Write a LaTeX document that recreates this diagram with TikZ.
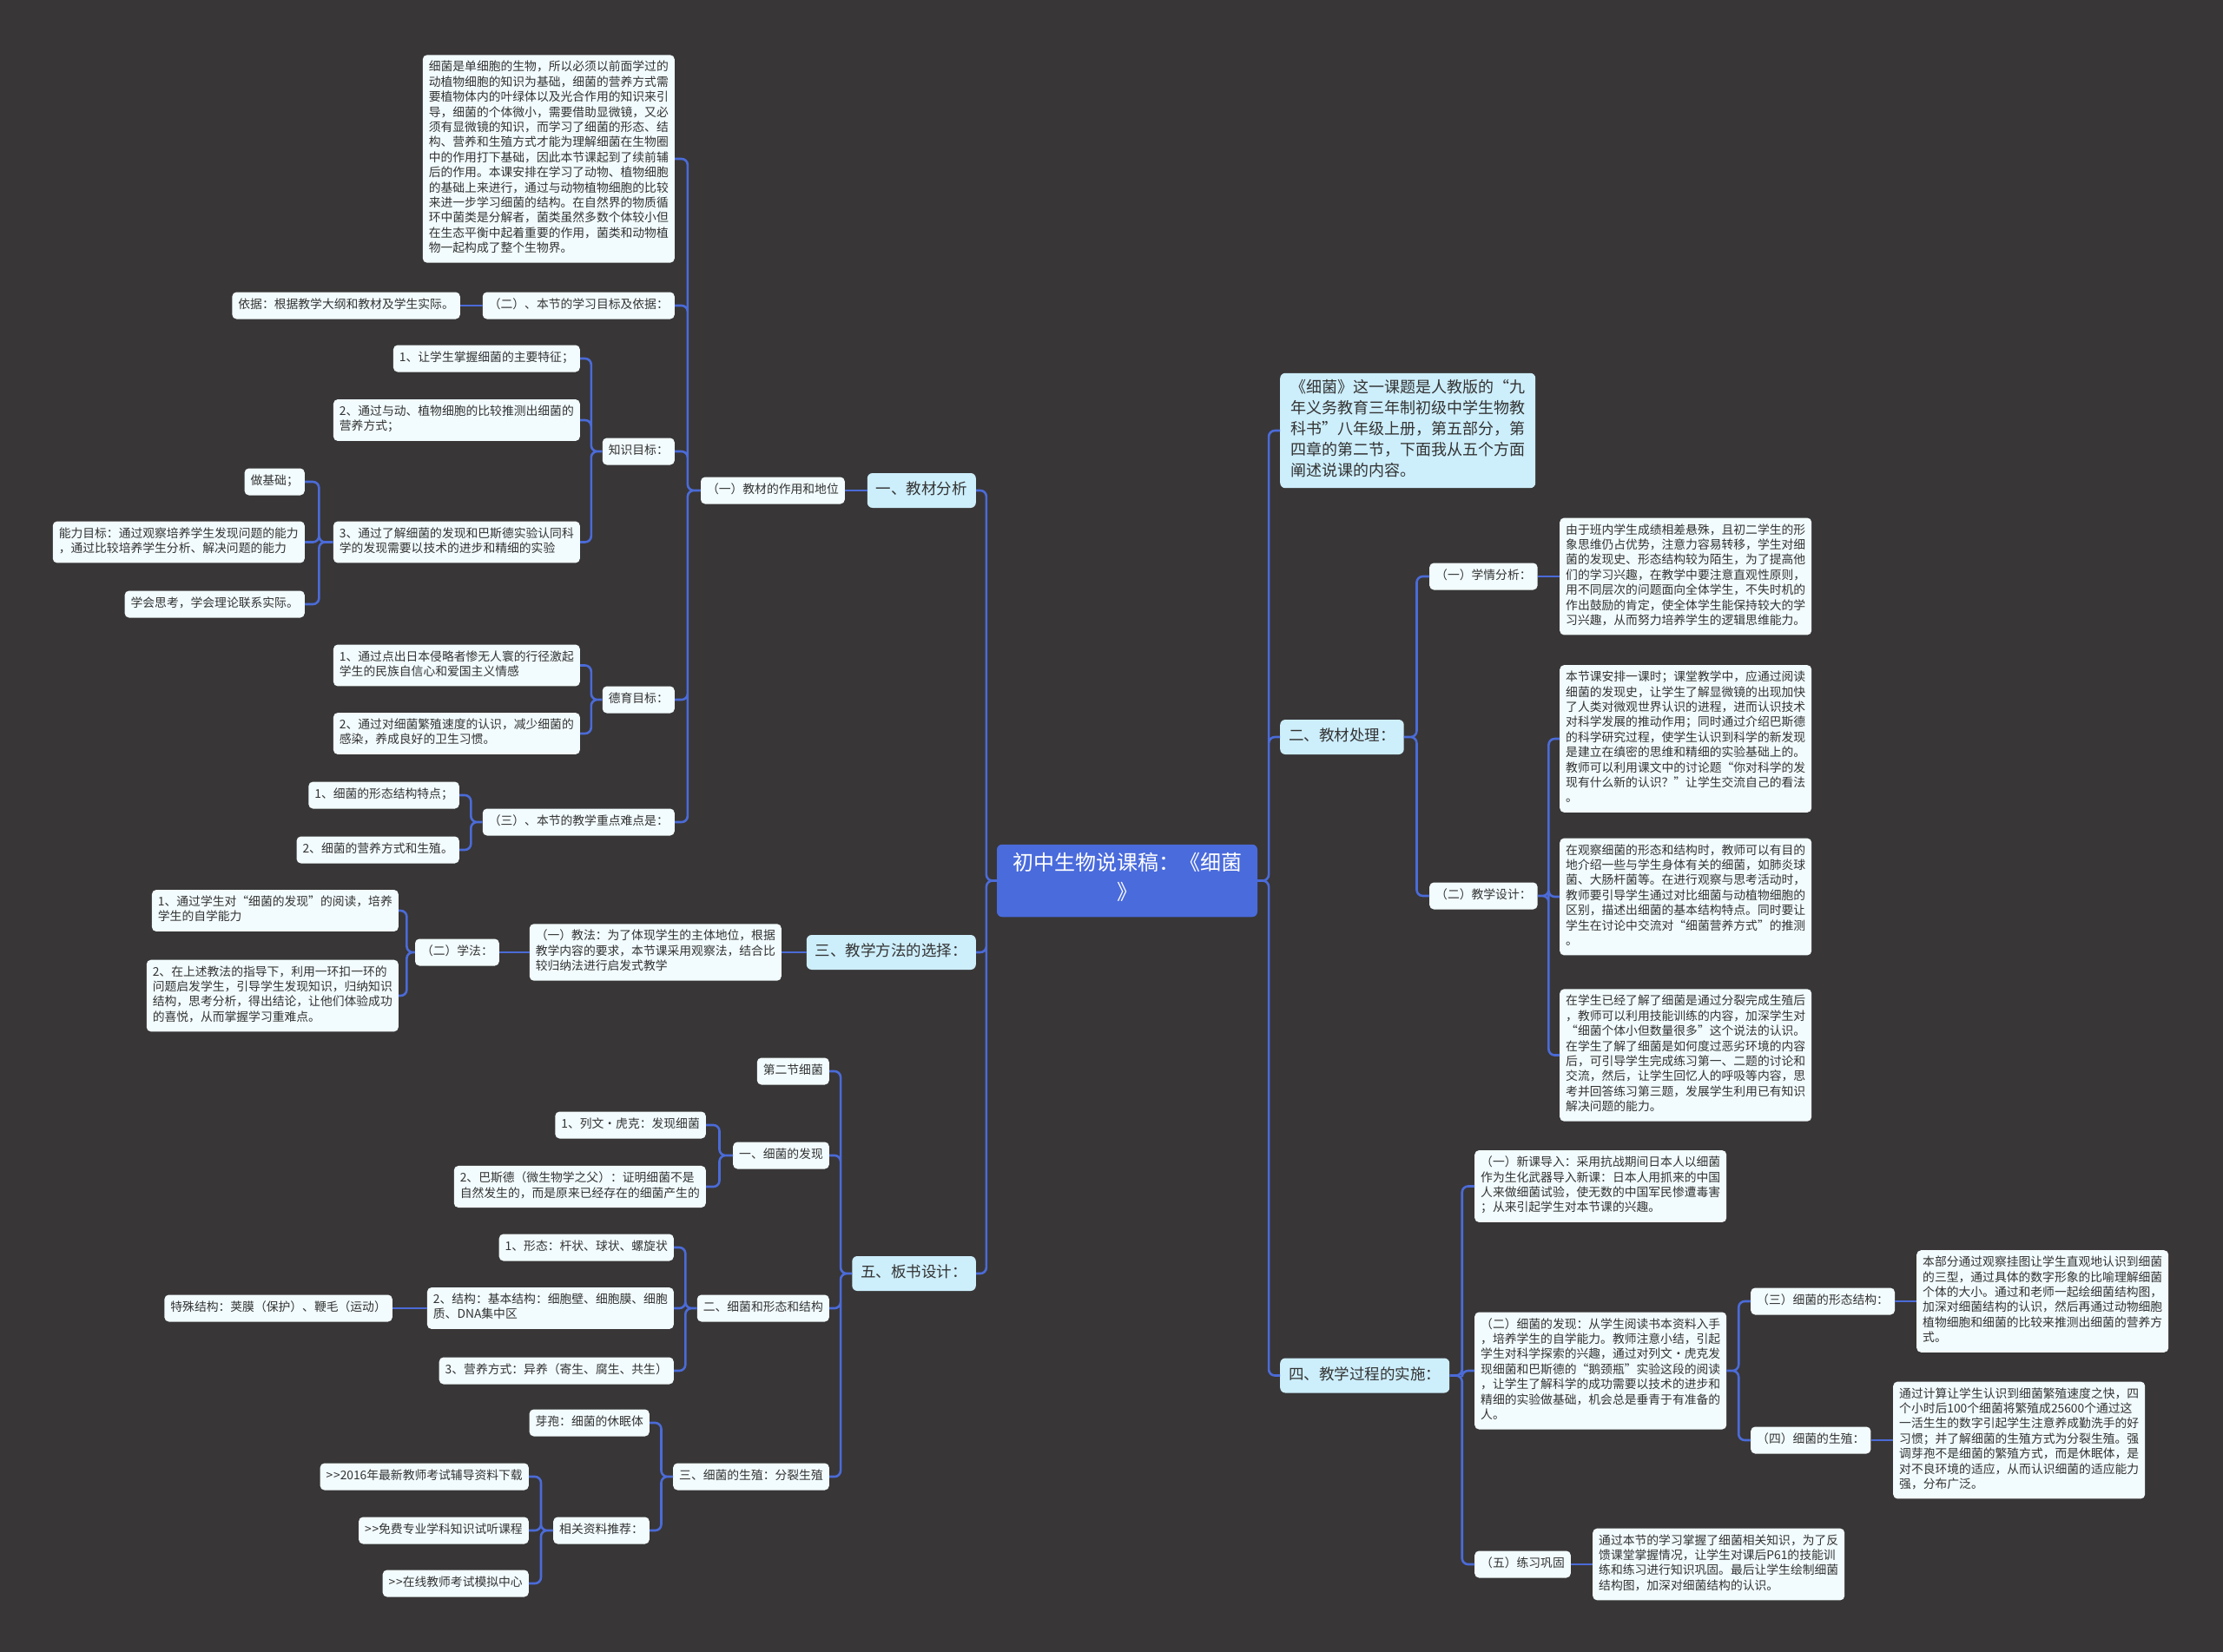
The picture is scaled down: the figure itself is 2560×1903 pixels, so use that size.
\documentclass[tikz,border=0pt]{standalone}
\usepackage{fontspec}
\setmainfont{Noto Sans CJK SC}
\usetikzlibrary{calc}
\definecolor{bg}{HTML}{383637}
\definecolor{linec}{HTML}{4B6BD8}
\definecolor{leaffill}{HTML}{F2FBFD}
\definecolor{lvlfill}{HTML}{CDEEFB}
\definecolor{rootfill}{HTML}{4A6BDC}
\definecolor{txt}{HTML}{333333}
\newcommand{\gtgt}{>\kern0.8pt>}
\tikzset{
  leaf/.style={fill=leaffill, rounded corners=5pt, inner xsep=7pt, inner ysep=6.8pt, align=left, text=txt,
    font=\fontsize{13.8}{17.4}\selectfont, execute at begin node=\strut, execute at end node=\strut},
  lvl/.style={fill=lvlfill, rounded corners=6pt, inner xsep=10pt, inner ysep=8pt, align=left, text=txt,
    font=\fontsize{17.5}{24}\selectfont, execute at begin node=\strut, execute at end node=\strut},
  introbox/.style={fill=lvlfill, rounded corners=6pt, inner xsep=12pt, inner ysep=7pt, align=left, text=txt,
    font=\fontsize{18}{24}\selectfont, execute at begin node=\strut, execute at end node=\strut},
  rootn/.style={fill=rootfill, rounded corners=6pt, inner xsep=18pt, inner ysep=9.5pt, align=center, text=white,
    minimum width=300pt, font=\fontsize{24}{34}\selectfont, execute at begin node=\strut, execute at end node=\strut},
  conn/.style={draw=linec, line width=2.6pt, rounded corners=7pt},
  lc/.style={to path={(\tikztostart.west) -- ($(\tikztostart.west)!0.5!(\tikztostart.west -| \tikztotarget.east)$) |- (\tikztotarget.east)}},
  rc/.style={to path={(\tikztostart.east) -- ($(\tikztostart.east)!0.5!(\tikztostart.east -| \tikztotarget.west)$) |- (\tikztotarget.west)}},
  hl/.style={to path={(\tikztostart.west) -- (\tikztotarget.east)}},
  hr/.style={to path={(\tikztostart.east) -- (\tikztotarget.west)}},
}
\begin{document}
\begin{tikzpicture}[x=1pt,y=-1pt]
\useasboundingbox (0,0) rectangle (2560,1903);
\fill[bg] (0,0) rectangle (2560,1903);

% root
\node[rootn] (root) at (1298,1014.5) {初中生物说课稿：《细菌\\》};

% ===== left: 一
\node[lvl,anchor=east] (jcfx) at (1124,565) {一、教材分析};
\node[leaf,anchor=east] (zy) at (973,565) {（一）教材的作用和地位};
\node[leaf,anchor=east] (topblock) at (777,183) {细菌是单细胞的生物，所以必须以前面学过的\\动植物细胞的知识为基础，细菌的营养方式需\\要植物体内的叶绿体以及光合作用的知识来引\\导，细菌的个体微小，需要借助显微镜，又必\\须有显微镜的知识，而学习了细菌的形态、结\\构、营养和生殖方式才能为理解细菌在生物圈\\中的作用打下基础，因此本节课起到了续前辅\\后的作用。本课安排在学习了动物、植物细胞\\的基础上来进行，通过与动物植物细胞的比较\\来进一步学习细菌的结构。在自然界的物质循\\环中菌类是分解者，菌类虽然多数个体较小但\\在生态平衡中起着重要的作用，菌类和动物植\\物一起构成了整个生物界。};
\node[leaf,anchor=east] (mb) at (777,352) {（二）、本节的学习目标及依据：};
\node[leaf,anchor=east] (yj) at (530,352) {依据：根据教学大纲和教材及学生实际。};
\node[leaf,anchor=east] (zsmb) at (777,520) {知识目标：};
\node[leaf,anchor=east] (zs1) at (668,413) {1、让学生掌握细菌的主要特征；};
\node[leaf,anchor=east] (zs2) at (668,484) {2、通过与动、植物细胞的比较推测出细菌的\\营养方式；};
\node[leaf,anchor=east] (zs3) at (668,624.5) {3、通过了解细菌的发现和巴斯德实验认同科\\学的发现需要以技术的进步和精细的实验};
\node[leaf,anchor=east] (zjc) at (351,555) {做基础；};
\node[leaf,anchor=east] (nlmb) at (351,624.5) {能力目标：通过观察培养学生发现问题的能力\\，通过比较培养学生分析、解决问题的能力};
\node[leaf,anchor=east] (xhsk) at (351,696) {学会思考，学会理论联系实际。};
\node[leaf,anchor=east] (dymb) at (777,806) {德育目标：};
\node[leaf,anchor=east] (dy1) at (668,766.5) {1、通过点出日本侵略者惨无人寰的行径激起\\学生的民族自信心和爱国主义情感};
\node[leaf,anchor=east] (dy2) at (668,845) {2、通过对细菌繁殖速度的认识，减少细菌的\\感染，养成良好的卫生习惯。};
\node[leaf,anchor=east] (zd) at (777,947) {（三）、本节的教学重点难点是：};
\node[leaf,anchor=east] (zd1) at (529,916) {1、细菌的形态结构特点；};
\node[leaf,anchor=east] (zd2) at (529,979) {2、细菌的营养方式和生殖。};

% ===== left: 三
\node[lvl,anchor=east] (ff) at (1124,1097) {三、教学方法的选择：};
\node[leaf,anchor=east] (jf) at (900,1097) {（一）教法：为了体现学生的主体地位，根据\\教学内容的要求，本节课采用观察法，结合比\\较归纳法进行启发式教学};
\node[leaf,anchor=east] (xf) at (575,1097) {（二）学法：};
\node[leaf,anchor=east] (xf1) at (459,1049) {1、通过学生对“细菌的发现”的阅读，培养\\学生的自学能力};
\node[leaf,anchor=east] (xf2) at (459,1147) {2、在上述教法的指导下，利用一环扣一环的\\问题启发学生，引导学生发现知识，归纳知识\\结构，思考分析，得出结论，让他们体验成功\\的喜悦，从而掌握学习重难点。};

% ===== left: 五
\node[lvl,anchor=east] (bs) at (1124,1467) {五、板书设计：};
\node[leaf,anchor=east] (d2j) at (955,1234) {第二节细菌};
\node[leaf,anchor=east] (fx1) at (955,1331) {一、细菌的发现};
\node[leaf,anchor=east] (lw) at (813,1296) {1、列文•虎克：发现细菌};
\node[leaf,anchor=east] (bsd) at (813,1367) {2、巴斯德（微生物学之父）：证明细菌不是\\自然发生的，而是原来已经存在的细菌产生的};
\node[leaf,anchor=east] (xtjg) at (955,1507) {二、细菌和形态和结构};
\node[leaf,anchor=east] (xt1) at (776,1437) {1、形态：杆状、球状、螺旋状};
\node[leaf,anchor=east] (jg2) at (776,1507) {2、结构：基本结构：细胞壁、细胞膜、细胞\\质、DNA集中区};
\node[leaf,anchor=east] (tszj) at (452,1507) {特殊结构：荚膜（保护）、鞭毛（运动）};
\node[leaf,anchor=east] (yy3) at (776,1579) {3、营养方式：异养（寄生、腐生、共生）};
\node[leaf,anchor=east] (szfl) at (955,1701) {三、细菌的生殖：分裂生殖};
\node[leaf,anchor=east] (yb) at (748,1639) {芽孢：细菌的休眠体};
\node[leaf,anchor=east] (xgzl) at (748,1763) {相关资料推荐：};
\node[leaf,anchor=east] (r1) at (609,1701) {\gtgt 2016年最新教师考试辅导资料下载};
\node[leaf,anchor=east] (r2) at (609,1763) {\gtgt 免费专业学科知识试听课程};
\node[leaf,anchor=east] (r3) at (609,1824) {\gtgt 在线教师考试模拟中心};

% ===== right
\node[introbox,anchor=west] (intro) at (1474,496) {《细菌》这一课题是人教版的“九\\年义务教育三年制初级中学生物教\\科书”八年级上册，第五部分，第\\四章的第二节，下面我从五个方面\\阐述说课的内容。};
\node[lvl,anchor=west] (cl) at (1474,849) {二、教材处理：};
\node[leaf,anchor=west] (xq) at (1646,664) {（一）学情分析：};
\node[leaf,anchor=west] (xqt) at (1796,664) {由于班内学生成绩相差悬殊，且初二学生的形\\象思维仍占优势，注意力容易转移，学生对细\\菌的发现史、形态结构较为陌生，为了提高他\\们的学习兴趣，在教学中要注意直观性原则，\\用不同层次的问题面向全体学生，不失时机的\\作出鼓励的肯定，使全体学生能保持较大的学\\习兴趣，从而努力培养学生的逻辑思维能力。};
\node[leaf,anchor=west] (sj) at (1646,1032) {（二）教学设计：};
\node[leaf,anchor=west] (sj1) at (1796,851) {本节课安排一课时；课堂教学中，应通过阅读\\细菌的发现史，让学生了解显微镜的出现加快\\了人类对微观世界认识的进程，进而认识技术\\对科学发展的推动作用；同时通过介绍巴斯德\\的科学研究过程，使学生认识到科学的新发现\\是建立在缜密的思维和精细的实验基础上的。\\教师可以利用课文中的讨论题“你对科学的发\\现有什么新的认识？”让学生交流自己的看法\\。};
\node[leaf,anchor=west] (sj2) at (1796,1033) {在观察细菌的形态和结构时，教师可以有目的\\地介绍一些与学生身体有关的细菌，如肺炎球\\菌、大肠杆菌等。在进行观察与思考活动时，\\教师要引导学生通过对比细菌与动植物细胞的\\区别，描述出细菌的基本结构特点。同时要让\\学生在讨论中交流对“细菌营养方式”的推测\\。};
\node[leaf,anchor=west] (sj3) at (1796,1215.5) {在学生已经了解了细菌是通过分裂完成生殖后\\，教师可以利用技能训练的内容，加深学生对\\“细菌个体小但数量很多”这个说法的认识。\\在学生了解了细菌是如何度过恶劣环境的内容\\后，可引导学生完成练习第一、二题的讨论和\\交流，然后，让学生回忆人的呼吸等内容，思\\考并回答练习第三题，发展学生利用已有知识\\解决问题的能力。};
\node[lvl,anchor=west] (gc) at (1474,1584.5) {四、教学过程的实施：};
\node[leaf,anchor=west] (xk) at (1698,1366.5) {（一）新课导入：采用抗战期间日本人以细菌\\作为生化武器导入新课：日本人用抓来的中国\\人来做细菌试验，使无数的中国军民惨遭毒害\\；从来引起学生对本节课的兴趣。};
\node[leaf,anchor=west] (fx) at (1698,1579) {（二）细菌的发现：从学生阅读书本资料入手\\，培养学生的自学能力。教师注意小结，引起\\学生对科学探索的兴趣，通过对列文•虎克发\\现细菌和巴斯德的“鹅颈瓶”实验这段的阅读\\，让学生了解科学的成功需要以技术的进步和\\精细的实验做基础，机会总是垂青于有准备的\\人。};
\node[leaf,anchor=west] (xt3) at (2016,1499) {（三）细菌的形态结构：};
\node[leaf,anchor=west] (xt3t) at (2207,1499) {本部分通过观察挂图让学生直观地认识到细菌\\的三型，通过具体的数字形象的比喻理解细菌\\个体的大小。通过和老师一起绘细菌结构图，\\加深对细菌结构的认识，然后再通过动物细胞\\植物细胞和细菌的比较来推测出细菌的营养方\\式。};
\node[leaf,anchor=west] (sz4) at (2016,1659) {（四）细菌的生殖：};
\node[leaf,anchor=west] (sz4t) at (2180,1659) {通过计算让学生认识到细菌繁殖速度之快，四\\个小时后100个细菌将繁殖成25600个通过这\\一活生生的数字引起学生注意养成勤洗手的好\\习惯；并了解细菌的生殖方式为分裂生殖。强\\调芽孢不是细菌的繁殖方式，而是休眠体，是\\对不良环境的适应，从而认识细菌的适应能力\\强，分布广泛。};
\node[leaf,anchor=west] (lx5) at (1698,1802) {（五）练习巩固};
\node[leaf,anchor=west] (lx5t) at (1834,1802) {通过本节的学习掌握了细菌相关知识，为了反\\馈课堂掌握情况，让学生对课后P61的技能训\\练和练习进行知识巩固。最后让学生绘制细菌\\结构图，加深对细菌结构的认识。};

% ===== connectors left
\draw[conn] (root) to[lc] (jcfx) (root) to[lc] (ff) (root) to[lc] (bs);
\draw[conn] (jcfx) to[hl] (zy);
\draw[conn] (zy) to[lc] (topblock) (zy) to[lc] (mb) (zy) to[lc] (zsmb) (zy) to[lc] (dymb) (zy) to[lc] (zd);
\draw[conn] (mb) to[hl] (yj);
\draw[conn] (zsmb) to[lc] (zs1) (zsmb) to[lc] (zs2) (zsmb) to[lc] (zs3);
\draw[conn] (zs3) to[lc] (zjc) (zs3) to[lc] (nlmb) (zs3) to[lc] (xhsk);
\draw[conn] (dymb) to[lc] (dy1) (dymb) to[lc] (dy2);
\draw[conn] (zd) to[lc] (zd1) (zd) to[lc] (zd2);
\draw[conn] (ff) to[hl] (jf);
\draw[conn] (jf) to[hl] (xf);
\draw[conn] (xf) to[lc] (xf1) (xf) to[lc] (xf2);
\draw[conn] (bs) to[lc] (d2j) (bs) to[lc] (fx1) (bs) to[lc] (xtjg) (bs) to[lc] (szfl);
\draw[conn] (fx1) to[lc] (lw) (fx1) to[lc] (bsd);
\draw[conn] (xtjg) to[lc] (xt1) (xtjg) to[lc] (jg2) (xtjg) to[lc] (yy3);
\draw[conn] (jg2) to[hl] (tszj);
\draw[conn] (szfl) to[lc] (yb) (szfl) to[lc] (xgzl);
\draw[conn] (xgzl) to[lc] (r1) (xgzl) to[lc] (r2) (xgzl) to[lc] (r3);

% ===== connectors right
\draw[conn] (root) to[rc] (intro) (root) to[rc] (cl) (root) to[rc] (gc);
\draw[conn] (cl) to[rc] (xq) (cl) to[rc] (sj);
\draw[conn] (xq) to[hr] (xqt);
\draw[conn] (sj) to[rc] (sj1) (sj) to[rc] (sj2) (sj) to[rc] (sj3);
\draw[conn] (gc) to[rc] (xk) (gc) to[rc] (fx) (gc) to[rc] (lx5);
\draw[conn] (fx) to[rc] (xt3) (fx) to[rc] (sz4);
\draw[conn] (xt3) to[hr] (xt3t);
\draw[conn] (sz4) to[hr] (sz4t);
\draw[conn] (lx5) to[hr] (lx5t);
\end{tikzpicture}
\end{document}
